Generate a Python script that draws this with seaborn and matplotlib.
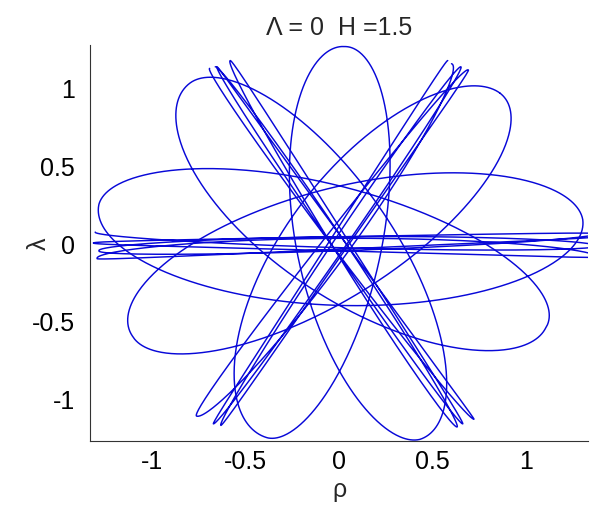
import numpy as np
import pandas as pd
import matplotlib
matplotlib.use("Agg")
import matplotlib.pyplot as plt
import seaborn as sns

# Outer turning points of the wide, precessing swings (in time order)
wide_rho = [0.86, -0.38, 0.03, 0.43, -0.79, 1.10, -1.28, 1.30, -1.10, 0.86]
wide_lam = [0.96, -1.25, 1.26, -1.26, 1.03, -0.55, 0.25, 0.15, -0.60, 0.96]
wide_width = [0.30, 0.23, 0.23, 0.30, 0.32, 0.35, 0.40, 0.35, 0.32]

# Narrow swings running from upper left to lower right
nw_rho = [-0.69, 0.72, -0.65, 0.66, -0.58, 0.63, -0.66]
nw_lam = [1.12, -1.13, 1.13, -1.16, 1.17, -1.18, 1.13]
nw_width = [0.04, 0.03, 0.04, 0.05, 0.04, 0.03]

# Narrow swings running from upper right to lower left
ne_rho = [0.58, -0.67, 0.65, -0.63, 0.69, -0.76, 0.60]
ne_lam = [1.17, -1.16, 1.13, -1.17, 1.11, -1.11, 1.15]
ne_width = [0.05, 0.04, 0.03, 0.05, 0.08, 0.07]

# Nearly horizontal swings across the whole range of rho
h_rho = [-1.30, 1.38, -1.28, 1.38, -1.31, 1.38, -1.29, 1.38]
h_lam = [0.07, -0.02, -0.05, 0.06, 0.00, -0.09, -0.10, 0.04]
h_width = [0.03, 0.04, 0.05, 0.04, 0.05, 0.03, 0.04]


def precessing_path(rho, lam, width, sense=1.0, n=300):
    """Orbit through the given turning points: an ellipse whose axis, length and
    width change from one half-swing to the next."""
    p = np.column_stack([rho, lam])
    k = np.arange(len(p))
    signs = (-1.0) ** k
    q = p * signs[:, None]
    phi = np.unwrap(np.arctan2(q[:, 1], q[:, 0]))
    amp = np.hypot(q[:, 0], q[:, 1])
    out = []
    for i in range(len(p) - 1):
        f = np.linspace(0, 1, n, endpoint=(i == len(p) - 2))
        t = (i + f) * np.pi
        ph = phi[i] + (phi[i + 1] - phi[i]) * f
        a = amp[i] + (amp[i + 1] - amp[i]) * f
        u = np.column_stack([np.cos(ph), np.sin(ph)])
        nv = np.column_stack([-np.sin(ph), np.cos(ph)])
        xy = (a * np.cos(t))[:, None] * u + (sense * width[i] * np.sin(t))[:, None] * nv
        out.append(xy)
    return np.vstack(out)


frames = []
for name, (r, l, w) in {
    "wide": (wide_rho, wide_lam, wide_width),
    "nw": (nw_rho, nw_lam, nw_width),
    "ne": (ne_rho, ne_lam, ne_width),
    "h": (h_rho, h_lam, h_width),
}.items():
    xy = precessing_path(r, l, w)
    frames.append(pd.DataFrame({"part": name, "step": np.arange(len(xy)),
                                "rho": xy[:, 0], "lam": xy[:, 1]}))
orbit = pd.concat(frames, ignore_index=True)

sns.set_style("white")
plt.rcParams["font.family"] = ["Liberation Sans", "DejaVu Sans"]

fig = plt.figure(figsize=(5.91, 5.06), dpi=100)
ax = fig.add_axes([90 / 591, 64 / 506, 498 / 591, 396 / 506])
sns.lineplot(data=orbit, x="rho", y="lam", units="part", estimator=None, sort=False,
             color="#0808d8", linewidth=1.05, ax=ax, legend=False)

ax.set_xlim(-1.328, 1.328)
ax.set_ylim(-1.27, 1.27)
ax.set_xticks([-1, -0.5, 0, 0.5, 1])
ax.set_xticklabels(["-1", "-0.5", "0", "0.5", "1"])
ax.set_yticks([-1, -0.5, 0, 0.5, 1])
ax.set_yticklabels(["-1", "-0.5", "0", "0.5", "1"])
ax.tick_params(direction="in", length=4, labelsize=18, colors="black", width=0.8)
ax.tick_params(axis="x", pad=6)
ax.tick_params(axis="y", pad=11)
for side in ["top", "right"]:
    ax.spines[side].set_visible(False)
for side in ["left", "bottom"]:
    ax.spines[side].set_color("#333333")
    ax.spines[side].set_linewidth(0.8)
ax.set_xlabel("ρ", fontsize=18)
ax.set_ylabel("λ", fontsize=18)
ax.xaxis.set_label_coords(0.5, -0.092)
ax.yaxis.set_label_coords(-0.078, 0.5)
ax.set_title("Λ = 0  H =1.5", fontsize=18, pad=8)

fig.savefig("out.png", dpi=100, facecolor="white")
